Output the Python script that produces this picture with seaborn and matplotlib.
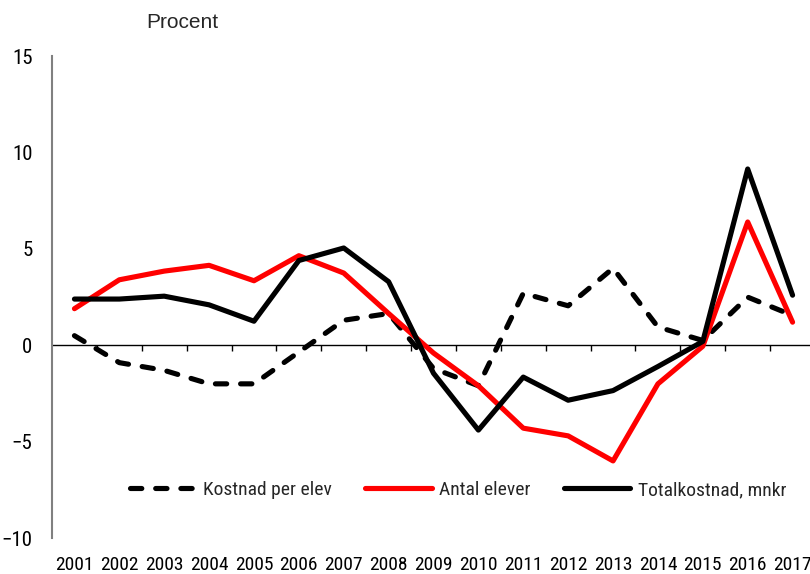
import numpy as np
import pandas as pd
import seaborn as sns
import matplotlib.pyplot as plt

# data (yearly change, percent)
years = [str(y) for y in range(2001, 2018)]
kostnad_per_elev = [0.5, -0.9, -1.3, -2.0, -2.0, -0.35, 1.3, 1.65, -1.2, -2.1,
                    2.7, 2.05, 4.0, 0.95, 0.25, 2.5, 1.55]
antal_elever = [1.9, 3.4, 3.85, 4.15, 3.35, 4.65, 3.75, 1.65, -0.4, -2.1,
                -4.3, -4.7, -6.0, -2.0, -0.05, 6.4, 1.2]
totalkostnad = [2.4, 2.4, 2.55, 2.1, 1.25, 4.4, 5.05, 3.3, -1.45, -4.4,
                -1.65, -2.85, -2.35, -1.1, 0.2, 9.15, 2.6]

labels = ["Kostnad per elev", "Antal elever", "Totalkostnad, mnkr"]

sns.set_style("white")
plt.rcParams["font.family"] = ["Roboto Condensed", "DejaVu Sans"]

fig = plt.figure(figsize=(8.1, 5.74), dpi=100)
ax = fig.add_axes([0.0642, 0.0627, 0.942, 0.8393])

x = np.arange(len(years))
lw = 3.7
sns.lineplot(x=x, y=kostnad_per_elev, ax=ax, color="black", linewidth=lw,
             label=labels[0])
sns.lineplot(x=x, y=antal_elever, ax=ax, color="#ff0000", linewidth=lw,
             label=labels[1])
sns.lineplot(x=x, y=totalkostnad, ax=ax, color="black", linewidth=lw,
             label=labels[2])
for ln in ax.lines:
    ln.set_solid_capstyle("round")
ax.lines[0].set_dashes((2.2, 2.7))
ax.lines[0].set_dash_capstyle("round")

ax.set_xlim(-0.5, len(years) - 0.5)
ax.set_ylim(-10, 15)
ax.set_yticks([-10, -5, 0, 5, 10, 15])

# zero line with category separators
ax.axhline(0, color="black", linewidth=1.0, zorder=1)
ax.vlines(x[:-1] + 0.5, -0.32, 0, color="black", linewidth=1.0, zorder=1)

for s in ["top", "right", "bottom"]:
    ax.spines[s].set_visible(False)
ax.spines["left"].set_color("#808080")
ax.spines["left"].set_linewidth(1.5)

ax.set_xticks(x)
ax.set_xticklabels(years)
ax.tick_params(axis="x", length=0, pad=13, labelsize=14, labelcolor="black")
ax.tick_params(axis="y", direction="in", length=6, width=1.2, color="#808080",
               labelsize=15, pad=14, labelcolor="black")

fig.text(146 / 810, 1 - 28 / 574, "Procent", fontsize=15, va="baseline",
         family=["Liberation Sans", "DejaVu Sans"])

leg = ax.legend(loc="center", bbox_to_anchor=(0.532, 0.0996), ncol=3,
                frameon=False, fontsize=14, handlelength=3.4,
                handletextpad=0.4, columnspacing=1.7)
leg.get_lines()[0].set_dashes((2.2, 2.7))
leg.get_lines()[0].set_dash_capstyle("round")

fig.savefig("out.png", dpi=100)
